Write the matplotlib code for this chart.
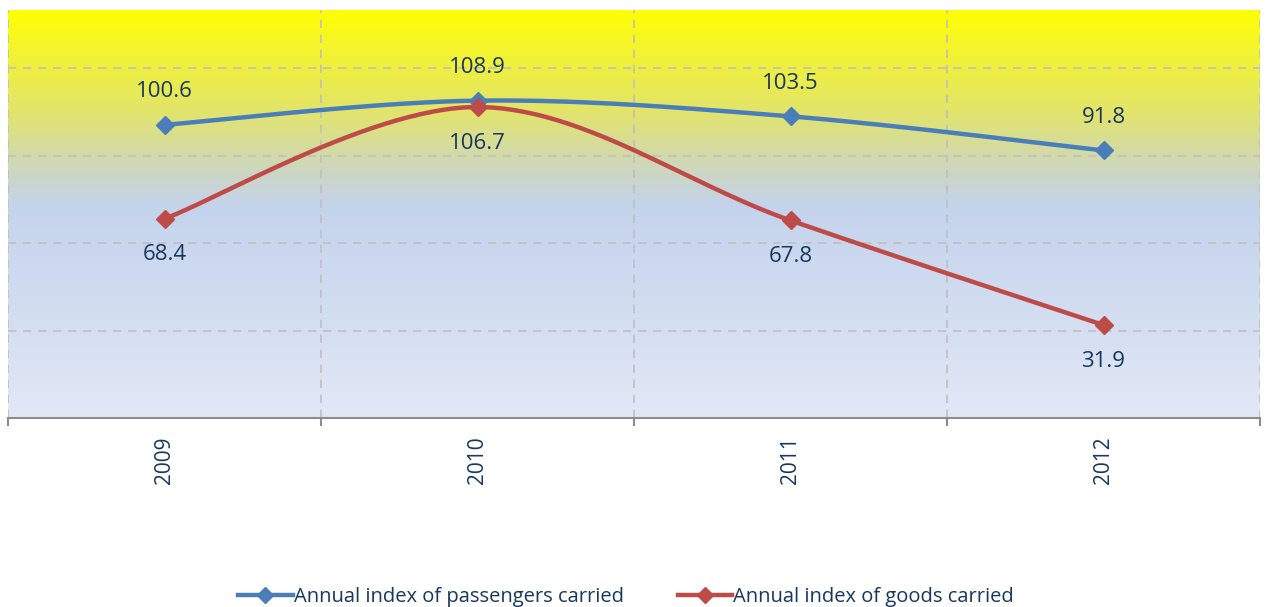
import numpy as np
import matplotlib.pyplot as plt
from matplotlib.colors import LinearSegmentedColormap
from matplotlib.lines import Line2D

years = ['2009', '2010', '2011', '2012']
passengers = [100.6, 108.9, 103.5, 91.8]
goods = [68.4, 106.7, 67.8, 31.9]

BLUE = '#4A7EBB'
RED = '#BE4B48'
TEXT = '#17375E'


def smooth(xs, ys, n=60):
    # Catmull-Rom style bezier smoothing, similar to the spreadsheet "smoothed line"
    xs = np.asarray(xs, float)
    ys = np.asarray(ys, float)
    px = np.concatenate([[xs[0]], xs, [xs[-1]]])
    py = np.concatenate([[ys[0]], ys, [ys[-1]]])
    out_x, out_y = [], []
    t = np.linspace(0, 1, n)
    for i in range(1, len(px) - 2):
        p0 = np.array([px[i], py[i]])
        p3 = np.array([px[i + 1], py[i + 1]])
        p1 = p0 + (np.array([px[i + 1], py[i + 1]]) - np.array([px[i - 1], py[i - 1]])) / 6
        p2 = p3 - (np.array([px[i + 2], py[i + 2]]) - np.array([px[i], py[i]])) / 6
        b = ((1 - t) ** 3)[:, None] * p0 + (3 * (1 - t) ** 2 * t)[:, None] * p1 \
            + (3 * (1 - t) * t ** 2)[:, None] * p2 + (t ** 3)[:, None] * p3
        out_x.extend(b[:, 0])
        out_y.extend(b[:, 1])
    return np.array(out_x), np.array(out_y)


plt.rcParams['font.family'] = ['Open Sans', 'DejaVu Sans']

fig = plt.figure(figsize=(12.65, 6.07), dpi=100)
ax = fig.add_axes([8 / 1265, 1 - 418 / 607, 1252 / 1265, 408 / 607])

# background gradient
stops = [(0.0, '#E2E8F6'), (0.52, '#C4D3EC'), (0.60, '#CCD6C4'),
         (0.75, '#E2E46C'), (0.94, '#F8F820'), (1.0, '#FFFF00')]
cmap = LinearSegmentedColormap.from_list('bg', stops)
grad = np.linspace(0, 1, 256)[:, None]
ax.imshow(grad, cmap=cmap, aspect='auto', origin='lower',
          extent=[0, 1, 0, 1], transform=ax.transAxes, zorder=0)

x = np.arange(len(years))
ax.set_xlim(-0.5, len(years) - 0.5)
ax.set_ylim(0, 140)

for yv in [30, 60, 90, 120]:
    ax.axhline(yv, color='#BFBFBF', lw=1.2, ls=(0, (5, 4)), zorder=1)
for xv in np.arange(-0.5, len(years), 1.0):
    ax.axvline(xv, color='#BFBFBF', lw=1.2, ls=(0, (5, 4)), zorder=1)

sx, sy = smooth(x, passengers)
ax.plot(sx, sy, color=BLUE, lw=3.2, zorder=3, solid_capstyle='round')
ax.plot(x, passengers, ls='none', marker='D', ms=9, color=BLUE, zorder=4)
sx, sy = smooth(x, goods)
ax.plot(sx, sy, color=RED, lw=3.2, zorder=3, solid_capstyle='round')
ax.plot(x, goods, ls='none', marker='D', ms=9, color=RED, zorder=4)

for xi, v in zip(x, passengers):
    ax.annotate(f'{v}', (xi, v), xytext=(0, 24), textcoords='offset points',
                ha='center', va='center', fontsize=16, color=TEXT, zorder=5)
for xi, v in zip(x, goods):
    ax.annotate(f'{v}', (xi, v), xytext=(0, -26), textcoords='offset points',
                ha='center', va='center', fontsize=16, color=TEXT, zorder=5)

for s in ['top', 'right', 'left']:
    ax.spines[s].set_visible(False)
ax.spines['bottom'].set_color('#8C8C8C')
ax.spines['bottom'].set_linewidth(1.5)
ax.set_yticks([])
ax.set_xticks(np.arange(-0.5, len(years), 1.0), minor=False)
ax.set_xticklabels([])
ax.tick_params(axis='x', which='major', length=6, width=1.5, color='#8C8C8C')
ax.set_xticks(x, minor=True)
ax.set_xticklabels(years, minor=True, rotation=90, fontsize=15, color=TEXT)
ax.tick_params(axis='x', which='minor', length=0, pad=13)

handles = [Line2D([], [], color=BLUE, lw=3.2, marker='D', ms=8),
           Line2D([], [], color=RED, lw=3.2, marker='D', ms=8)]
fig.legend(handles, ['Annual index of passengers carried', 'Annual index of goods carried'],
           loc='lower center', bbox_to_anchor=(0.495, -0.03), ncol=2, frameon=False,
           fontsize=14.5, labelcolor=TEXT, handlelength=2.7, handletextpad=0.05,
           columnspacing=2.7)

fig.savefig('out.png', dpi=100)
